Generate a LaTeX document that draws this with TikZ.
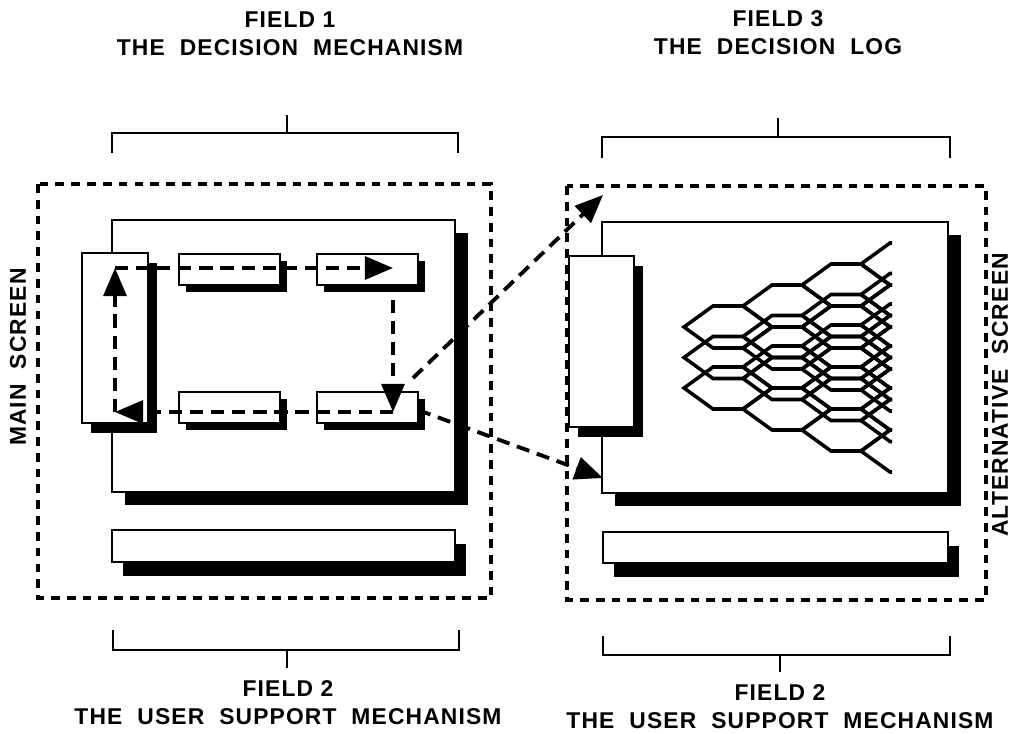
\documentclass[tikz,border=0pt]{standalone}
\usepackage{fontspec}
\newfontfamily\fieldfont[LetterSpace=5]{Liberation Sans}
\usepackage{tikz}
\usetikzlibrary{arrows.meta,shadows}
\tikzset{
  panel/.style={draw=black,fill=white,line width=1.6pt,inner sep=0pt},
  screen/.style={panel,drop shadow={shadow xshift=0.26cm,shadow yshift=-0.26cm,fill=black,opacity=1}},
  menu/.style={panel,drop shadow={shadow xshift=0.18cm,shadow yshift=-0.2cm,fill=black,opacity=1}},
  cell/.style={panel,drop shadow={shadow xshift=0.14cm,shadow yshift=-0.14cm,fill=black,opacity=1}},
  bar/.style={panel,drop shadow={shadow xshift=0.22cm,shadow yshift=-0.27cm,fill=black,opacity=1}},
  frame/.style={line width=2.1pt,dash pattern=on 5pt off 4pt},
  brk/.style={line width=1.6pt},
  flow/.style={line width=2.2pt,dash pattern=on 7.5pt off 4.5pt,-{Triangle[length=16pt,width=13pt]}},
  mesh/.style={line width=2pt},
  title/.style={font=\fieldfont\bfseries\fontsize{13}{16}\selectfont,align=center,inner sep=0pt},
}

\begin{document}
\begin{tikzpicture}[x=0.02cm,y=-0.02cm]
  \useasboundingbox (0,0) rectangle (1012,734);
  % titles and brackets
  \node[title] (f1) at (290,34) {FIELD 1\\THE\ \ DECISION\ \ MECHANISM};
  \node[title] (f3) at (778,33) {FIELD 3\\THE\ \ DECISION\ \ LOG};
  \node[title] (f2l) at (288,703) {FIELD 2\\THE\ \ USER\ \ SUPPORT\ \ MECHANISM};
  \node[title] (f2r) at (780,707) {FIELD 2\\THE\ \ USER\ \ SUPPORT\ \ MECHANISM};
  \node[title,rotate=90] (ms) at (18,357) {MAIN\ \ SCREEN};
  \node[title,rotate=90] (as) at (1000,395) {ALTERNATIVE\ \ SCREEN};
  \draw[brk] (112,153) -- (112,133) -- (458,133) -- (458,153) (287,133) -- (287,115);
  \draw[brk] (602,158) -- (602,137) -- (950,137) -- (950,158) (778,137) -- (778,118);
  \draw[brk] (113,630) -- (113,650) -- (459,650) -- (459,630) (287,650) -- (287,668);
  \draw[brk] (603,636) -- (603,655) -- (950,655) -- (950,636) (780,655) -- (780,672);
  \draw[frame] (38,184) rectangle (491,598);
  \draw[frame] (567,186) rectangle (986,600);
  % main screen
  \node[screen,minimum width=343*0.02cm,minimum height=272*0.02cm] (scrL) at (283.5,356) {};
  \node[menu,minimum width=66*0.02cm,minimum height=170*0.02cm] (tallL) at (115,338) {};
  \node[cell,minimum width=101*0.02cm,minimum height=31*0.02cm] (bTL) at (229.5,269.5) {};
  \node[cell,minimum width=101*0.02cm,minimum height=31*0.02cm] (bTR) at (367.5,269.5) {};
  \node[cell,minimum width=101*0.02cm,minimum height=31*0.02cm] (bBL) at (229.5,407.5) {};
  \node[cell,minimum width=101*0.02cm,minimum height=31*0.02cm] (bBR) at (367.5,407.5) {};
  \node[bar,minimum width=343*0.02cm,minimum height=32*0.02cm] (barL) at (283.5,546) {};
  % alternative screen
  \node[screen,minimum width=346*0.02cm,minimum height=271*0.02cm] (scrR) at (775,357.5) {};
  \node[menu,minimum width=65*0.02cm,minimum height=171*0.02cm] (tallR) at (601.5,341.5) {};
  \node[bar,minimum width=345*0.02cm,minimum height=31*0.02cm] (barR) at (775.5,547.5) {};
  % decision log mesh
  \begin{scope}
    \clip (670,200) rectangle (892,500);
    \foreach \s in {0,30.5,61}
      \foreach \k in {0,...,3}
        \foreach \j in {0,...,\k}{
          \pgfmathsetmacro\cx{728+59*\k}
          \pgfmathsetmacro\cy{327+\s-21*\k+42*\j}
          \draw[mesh] (\cx-44,\cy) -- ++(29,-21) -- ++(30,0) -- ++(29,21) -- ++(-29,21) -- ++(-30,0) -- cycle;
        }
  \end{scope}
  % loop through the menu
  \coordinate (c1) at (115,268);
  \coordinate (c2) at (393,268);
  \coordinate (c2b) at (393,300);
  \coordinate (c3) at (393,412);
  \coordinate (c4) at (115,412);
  \draw[flow] (c1) -- (c2);
  \draw[flow] (c2b) -- (c3);
  \draw[flow] (c3) -- (c4);
  \draw[flow] (c4) -- (c1);
  % links to the alternative screen
  \coordinate (a1) at (413,378);
  \coordinate (a1t) at (603,195);
  \coordinate (a2) at (418,410);
  \coordinate (a2t) at (603,478);
  \draw[flow] (a1) -- (a1t);
  \draw[flow] (a2) -- (a2t);
\end{tikzpicture}
\end{document}
